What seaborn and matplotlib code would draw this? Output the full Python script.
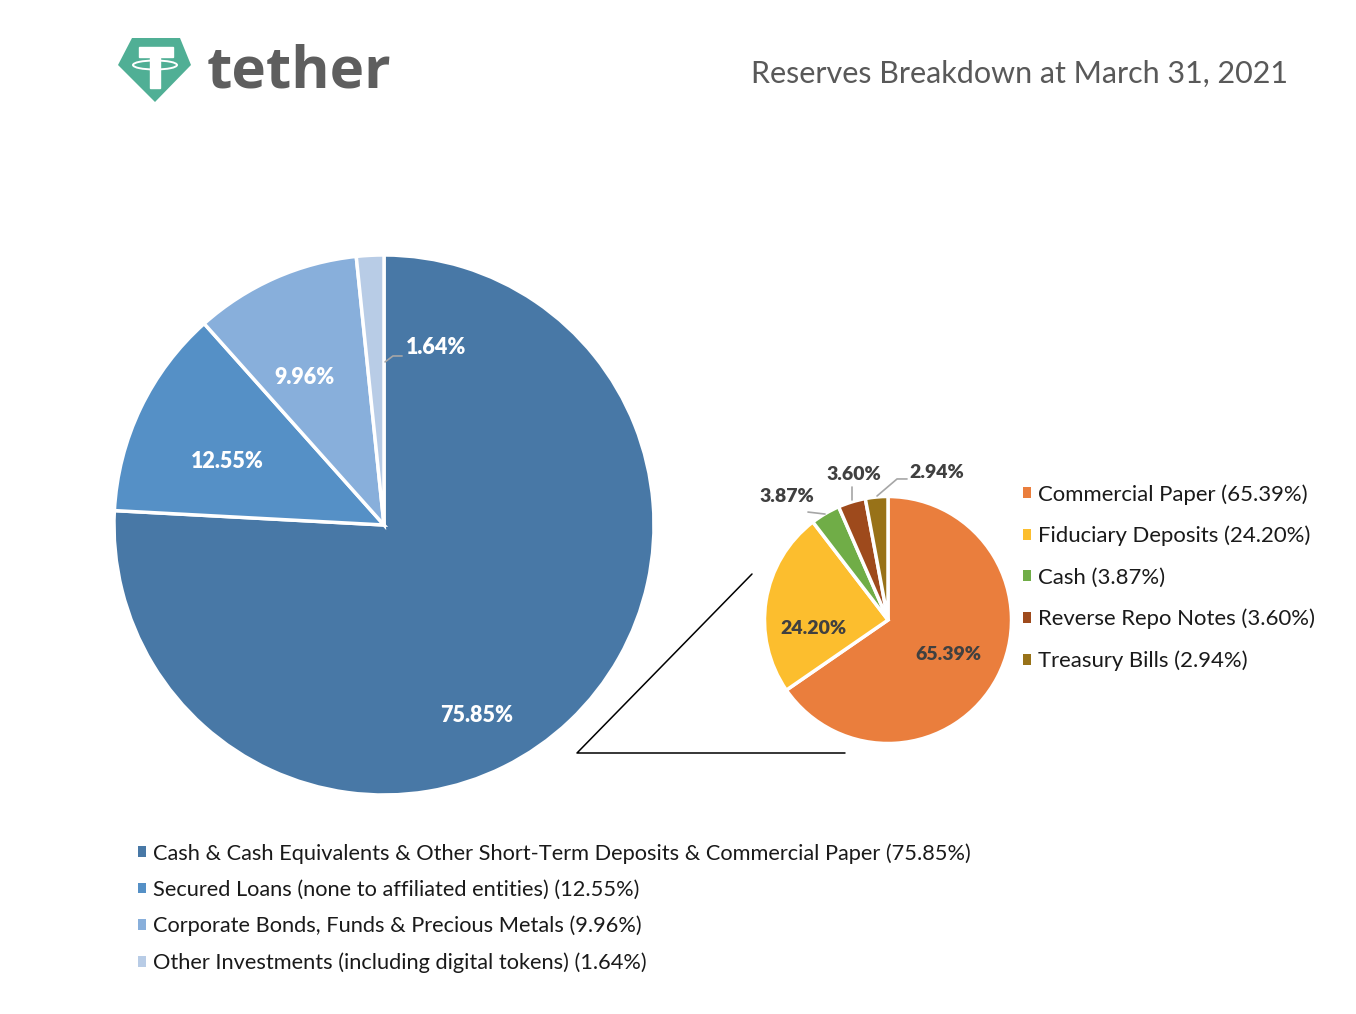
""" Tether reserves breakdown, pie of pie. """

import matplotlib.pyplot as plt
import matplotlib.patches as mpatches
import seaborn as sns

big_labels = [
    "Cash & Cash Equivalents & Other Short-Term Deposits & Commercial Paper",
    "Secured Loans (none to affiliated entities)",
    "Corporate Bonds, Funds & Precious Metals",
    "Other Investments (including digital tokens)",
]
big_values = [75.85, 12.55, 9.96, 1.64]
big_colors = ["#4878A6", "#5590C6", "#88AFDB", "#B8CCE6"]

small_labels = [
    "Commercial Paper",
    "Fiduciary Deposits",
    "Cash",
    "Reverse Repo Notes",
    "Treasury Bills",
]
small_values = [65.39, 24.20, 3.87, 3.60, 2.94]
small_colors = ["#EA7E3D", "#FCBE2E", "#70AD47", "#9E4A1C", "#987218"]

W, H = 1356, 1014

sns.set_theme(style="white")
plt.rcParams["font.family"] = ["Lato", "DejaVu Sans"]

fig = plt.figure(figsize=(W / 100, H / 100), dpi=100)


def px_axes(cx, cy, r):
    """ Square axes centred on a pixel position, radius r pixels. """
    ax = fig.add_axes([(cx - r) / W, (H - cy - r) / H, 2 * r / W, 2 * r / H])
    ax.set_xlim(-1, 1)
    ax.set_ylim(-1, 1)
    ax.set_axis_off()
    return ax


# overlay in pixel coordinates for logo, title, connectors
canvas = fig.add_axes([0, 0, 1, 1])
canvas.set_xlim(0, W)
canvas.set_ylim(H, 0)
canvas.set_axis_off()

# big pie
ax_big = px_axes(384, 525, 270)
big_wedges, _ = ax_big.pie(
    big_values, colors=big_colors, startangle=90, counterclock=False,
    radius=1, wedgeprops=dict(edgecolor="white", linewidth=2.5),
)
ax_big.set_xlim(-1, 1)
ax_big.set_ylim(-1, 1)
big_text_pos = [(0.344, -0.704), (-0.581, 0.237), (-0.296, 0.548), (0.193, 0.656)]
for v, (x, y) in zip(big_values, big_text_pos):
    ax_big.text(x, y, f"{v:.2f}%", color="white", fontsize=15.5, fontweight="heavy",
                ha="center", va="center")
ax_big.plot([0.004, 0.033, 0.067], [0.604, 0.626, 0.626], color="#A6A6A6", lw=1.2)

# small pie
ax_small = px_axes(888, 620, 123.5)
small_wedges, _ = ax_small.pie(
    small_values, colors=small_colors, startangle=90, counterclock=False,
    radius=1, wedgeprops=dict(edgecolor="white", linewidth=2.5),
)
ax_small.set_xlim(-1, 1)
ax_small.set_ylim(-1, 1)
small_text_pos = [(0.486, -0.283), (-0.607, -0.065), (-0.818, 0.996),
                  (-0.275, 1.182), (0.397, 1.198)]
for v, (x, y) in zip(small_values, small_text_pos):
    ax_small.text(x, y, f"{v:.2f}%", color="#404040", fontsize=14,
                  fontweight="heavy", ha="center", va="center", clip_on=False)
leaders = [
    ([-0.648, -0.510], [0.874, 0.858]),
    ([-0.291, -0.291], [1.077, 0.972]),
    ([0.154, 0.073, -0.089], [1.142, 1.142, 1.004]),
]
for xs, ys in leaders:
    ax_small.plot(xs, ys, color="#A6A6A6", lw=1.2, clip_on=False)

# connector lines between the pies
canvas.plot([752, 577, 845], [574, 753, 753], color="black", lw=1.1)

# logo
canvas.add_patch(mpatches.Polygon(
    [(132, 38), (180, 38), (191, 65), (155, 102), (118, 65)],
    closed=True, facecolor="#50AF95", edgecolor="none"))
canvas.add_patch(mpatches.Rectangle((139, 47), 34, 10, facecolor="white"))
canvas.add_patch(mpatches.Rectangle((150, 56), 10, 32, facecolor="white"))
canvas.add_patch(mpatches.Ellipse((155, 65), 44, 9, fill=False,
                                  edgecolor="white", lw=1.4))
canvas.text(207, 88, "tether", fontsize=42, fontweight="bold", color="#5E5E5E",
            ha="left", va="baseline", family=["Open Sans", "DejaVu Sans"])

# title
canvas.text(1288, 83, "Reserves Breakdown at March 31, 2021", fontsize=22,
            color="#595959", ha="right", va="baseline")


def legend_handles(colors):
    return [mpatches.Patch(facecolor=c, edgecolor="none") for c in colors]


# legends
fig.legend(
    legend_handles(big_colors),
    [f"{l} ({v:.2f}%)" for l, v in zip(big_labels, big_values)],
    loc="upper left", bbox_to_anchor=(138 / W, 1 - 843 / H), frameon=False,
    fontsize=15.7, handlelength=0.38, handleheight=0.38, handletextpad=0.3,
    labelspacing=0.74, borderpad=0, borderaxespad=0, labelcolor="#1A1A1A",
)
fig.legend(
    legend_handles(small_colors),
    [f"{l} ({v:.2f}%)" for l, v in zip(small_labels, small_values)],
    loc="upper left", bbox_to_anchor=(1023 / W, 1 - 484 / H), frameon=False,
    fontsize=15.9, handlelength=0.38, handleheight=0.38, handletextpad=0.3,
    labelspacing=0.96, borderpad=0, borderaxespad=0, labelcolor="#1A1A1A",
)

plt.savefig("out.png", dpi=100)
